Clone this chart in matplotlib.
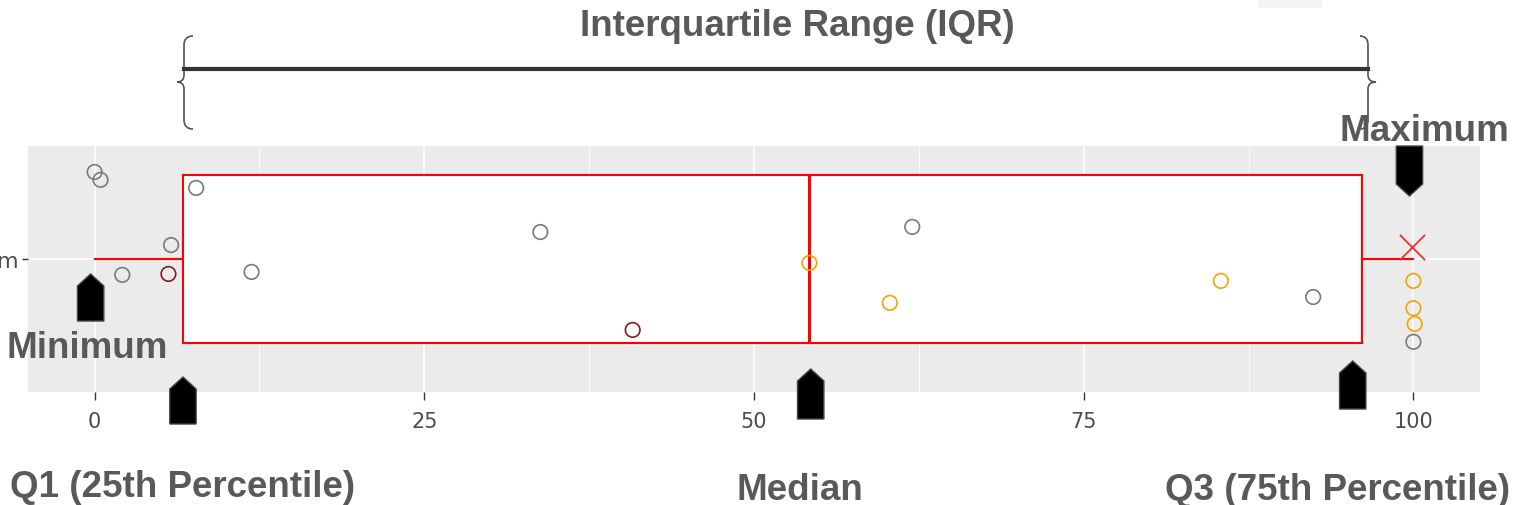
import matplotlib
matplotlib.use("Agg")
import matplotlib.pyplot as plt
from matplotlib.patches import Polygon, PathPatch, Rectangle
from matplotlib.path import Path
from matplotlib import transforms

W, H = 1514, 506

# box statistics
whislo = 0
q1 = 6.67
med = 54.2
q3 = 96.1
whishi = 100

# jittered points (x value, vertical jitter around category 1)
gray_x = [0, 0.45, 7.7, 5.8, 2.1, 11.9, 33.8, 62.0, 92.4, 100]
gray_y = [1.388, 1.353, 1.317, 1.062, 0.929, 0.942, 1.120, 1.143, 0.830, 0.630]
darkred_x = [5.6, 40.8]
darkred_y = [0.933, 0.683]
orange_x = [54.2, 60.3, 85.4, 100, 100, 100.1]
orange_y = [0.982, 0.804, 0.902, 0.902, 0.780, 0.710]
mean_x = [99.9]
mean_y = [1.054]

xticks = [0, 25, 50, 75, 100]
xticks_minor = [12.5, 37.5, 62.5, 87.5]
ylabel_cat = ["m"]

# annotation labels
labels = ["Interquartile Range (IQR)", "Minimum", "Maximum",
          "Q1 (25th Percentile)", "Median", "Q3 (75th Percentile)"]
label_pos = [(797, 36), (87, 358), (1424, 141), (183, 497), (800, 500), (1338, 500)]

# arrow markers: x in data units, top/bottom in pixels, direction
arrow_x = [-0.3, 6.7, 54.3, 95.4, 99.7]
arrow_top = [275, 378, 370, 362, 147]
arrow_bot = [322, 425, 420, 410, 197]
arrow_up = [True, True, True, True, False]

fig = plt.figure(figsize=(W / 100, H / 100), dpi=100)
ax = fig.add_axes([28 / W, 1 - 393 / H, (1480 - 28) / W, (393 - 147) / H])
ax.set_facecolor("#EBEBEB")
for s in ax.spines.values():
    s.set_visible(False)

ax.set_xlim(-5.05, 105.05)
ax.set_ylim(0.406, 1.504)
ax.set_xticks(xticks)
ax.set_xticks(xticks_minor, minor=True)
ax.set_yticks([1])
ax.set_yticklabels(ylabel_cat)
ax.grid(which="major", color="white", linewidth=1.1)
ax.grid(which="minor", axis="x", color="white", linewidth=0.55)
ax.set_axisbelow(True)
ax.tick_params(which="minor", length=0)
ax.tick_params(axis="x", which="major", length=6, width=1, color="#333333",
               labelsize=15, labelcolor="#4d4d4d", pad=8)
ax.tick_params(axis="y", which="major", length=4.5, width=1, color="#333333",
               labelsize=16, labelcolor="#4d4d4d", pad=2)

stats = [dict(whislo=whislo, q1=q1, med=med, q3=q3, whishi=whishi, fliers=[])]
ax.bxp(stats, positions=[1], widths=0.75, orientation="horizontal",
       showcaps=False, showfliers=False, patch_artist=True, manage_ticks=False,
       boxprops=dict(facecolor="white", edgecolor="red", linewidth=1.5),
       medianprops=dict(color="red", linewidth=2.2),
       whiskerprops=dict(color="red", linewidth=1.5))

ax.scatter(gray_x, gray_y, s=110, facecolors="none", edgecolors="#7a7a7a",
           linewidths=1.2, zorder=3)
ax.scatter(darkred_x, darkred_y, s=110, facecolors="none", edgecolors="#8b1a1a",
           linewidths=1.2, zorder=3)
ax.scatter(orange_x, orange_y, s=110, facecolors="none", edgecolors="#f5a300",
           linewidths=1.2, zorder=3)
ax.scatter(mean_x, mean_y, s=330, marker="x", color="#f03030",
           linewidths=1.3, zorder=3)


def fx(px):
    return px / W


def fy(py):
    return 1 - py / H


# black pentagon arrows
blend = transforms.blended_transform_factory(ax.transData, fig.transFigure)
half = 1.0  # data units (~13 px)
for xa, t, b, up in zip(arrow_x, arrow_top, arrow_bot, arrow_up):
    tip = 12
    if up:
        pts = [(xa - half, fy(b)), (xa + half, fy(b)), (xa + half, fy(t + tip)),
               (xa, fy(t)), (xa - half, fy(t + tip))]
    else:
        pts = [(xa - half, fy(t)), (xa + half, fy(t)), (xa + half, fy(b - tip)),
               (xa, fy(b)), (xa - half, fy(b - tip))]
    ax.add_patch(Polygon(pts, closed=True, facecolor="black", edgecolor="#444444",
                         linewidth=1, transform=blend, clip_on=False, zorder=5))

# braces and IQR bar
def brace(xv, x_end, x_tip, top, mid, bot):
    v = [(x_end, top), (xv, top), (xv, top + 9), (xv, mid - 7), (xv, mid),
         (x_tip, mid), (xv, mid), (xv, mid + 7), (xv, bot - 9), (xv, bot),
         (x_end, bot)]
    c = [Path.MOVETO, Path.CURVE3, Path.CURVE3, Path.LINETO, Path.CURVE3,
         Path.CURVE3, Path.CURVE3, Path.CURVE3, Path.LINETO, Path.CURVE3,
         Path.CURVE3]
    v = [(fx(a), fy(b)) for a, b in v]
    fig.patches.append(PathPatch(Path(v, c), facecolor="none", edgecolor="#555555",
                                 linewidth=1.2, transform=fig.transFigure))

brace(184, 193, 177, 37, 83, 130)
brace(1368, 1360, 1376, 37, 83, 130)
fig.add_artist(plt.Line2D([fx(184), fx(1368)], [fy(70), fy(70)], color="#333333",
                          linewidth=3, transform=fig.transFigure))

# faint legend remnant at the top
fig.patches.append(Rectangle((fx(1258), fy(9)), (1322 - 1258) / W, 9 / H,
                             facecolor="#f4f4f4", edgecolor="none",
                             transform=fig.transFigure))

for txt, (px, py) in zip(labels, label_pos):
    fig.text(fx(px), fy(py), txt, ha="center", va="baseline", fontsize=26.5,
             fontweight="bold", color="#595959", family="Liberation Sans",
             zorder=6)

fig.savefig("out.png", dpi=100)
